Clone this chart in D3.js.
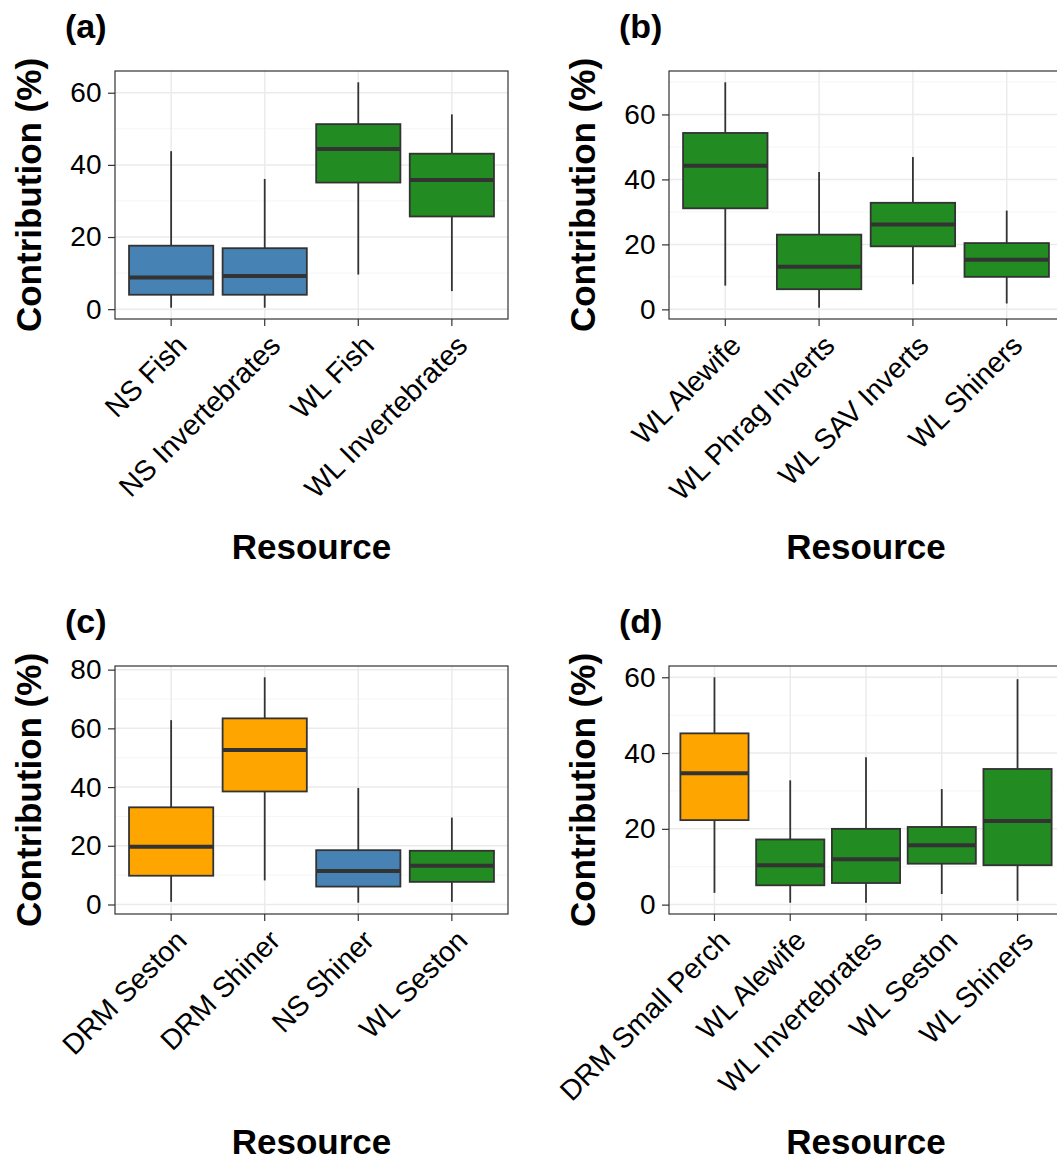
<!DOCTYPE html>
<html>
<head>
<meta charset="utf-8">
<script src="https://cdn.jsdelivr.net/npm/d3@7"></script>
<style>
  body { margin: 0; background: #ffffff; }
  svg { display: block; }
  text { font-family: "Liberation Sans", Arial, Helvetica, sans-serif; }
</style>
</head>
<body>
<svg id="fig" width="1057" height="1162"></svg>
<script>
// ---- Panel (a): diet contributions by resource ----
const catsA = ["NS Fish", "NS Invertebrates", "WL Fish", "WL Invertebrates"];
const lowA  = [0.4, 0.4, 9.6, 5.0];
const q1A   = [4.0, 4.0, 35.1, 25.7];
const medA  = [8.8, 9.2, 44.4, 35.8];
const q3A   = [17.6, 16.9, 51.3, 43.1];
const highA = [43.8, 36.1, 62.9, 54.0];
const ticksA = [0, 20, 40, 60];

// ---- Panel (b) ----
const catsB = ["WL Alewife", "WL Phrag Inverts", "WL SAV Inverts", "WL Shiners"];
const lowB  = [7.3, 0.5, 7.7, 1.8];
const q1B   = [31.1, 6.2, 19.4, 10.0];
const medB  = [44.2, 13.1, 26.1, 15.3];
const q3B   = [54.3, 23.0, 32.8, 20.4];
const highB = [69.9, 42.3, 46.9, 30.4];
const ticksB = [0, 20, 40, 60];

// ---- Panel (c) ----
const catsC = ["DRM Seston", "DRM Shiner", "NS Shiner", "WL Seston"];
const lowC  = [0.9, 8.2, 0.6, 0.9];
const q1C   = [9.8, 38.5, 6.1, 7.7];
const medC  = [19.7, 52.6, 11.4, 13.2];
const q3C   = [33.1, 63.4, 18.5, 18.3];
const highC = [62.8, 77.4, 39.7, 29.6];
const ticksC = [0, 20, 40, 60, 80];

// ---- Panel (d) ----
const catsD = ["DRM Small Perch", "WL Alewife", "WL Invertebrates", "WL Seston", "WL Shiners"];
const lowD  = [3.1, 0.5, 0.5, 2.8, 1.0];
const q1D   = [22.3, 5.1, 5.7, 10.8, 10.4];
const medD  = [34.7, 10.4, 12.0, 15.7, 22.1];
const q3D   = [45.2, 17.2, 20.0, 20.5, 35.8];
const highD = [60.0, 32.8, 38.9, 30.5, 59.5];
const ticksD = [0, 20, 40, 60];

// Fill colour by site prefix of the resource name
const siteColour = { NS: "#4682B4", WL: "#228B22", DRM: "#FFA500" };

const svg = d3.select("#fig");
svg.append("rect").attr("width", 1057).attr("height", 1162).attr("fill", "#ffffff");

const panels = [
  { tag: "(a)", cats: catsA, low: lowA, q1: q1A, med: medA, q3: q3A, high: highA, ticks: ticksA,
    left: 115, right: 508, top: 71, bottom: 319 },
  { tag: "(b)", cats: catsB, low: lowB, q1: q1B, med: medB, q3: q3B, high: highB, ticks: ticksB,
    left: 669, right: 1063, top: 71, bottom: 319 },
  { tag: "(c)", cats: catsC, low: lowC, q1: q1C, med: medC, q3: q3C, high: highC, ticks: ticksC,
    left: 115, right: 508, top: 666, bottom: 914 },
  { tag: "(d)", cats: catsD, low: lowD, q1: q1D, med: medD, q3: q3D, high: highD, ticks: ticksD,
    left: 669, right: 1063, top: 666, bottom: 914 }
];

function drawPanel(p) {
  const g = svg.append("g");
  const lo = d3.min(p.low), hi = d3.max(p.high), pad = (hi - lo) * 0.05;
  const y = d3.scaleLinear().domain([lo - pad, hi + pad]).range([p.bottom, p.top]);
  const x = d3.scaleBand().domain(p.cats).range([p.left, p.right])
    .paddingInner(0.1).paddingOuter(0.15);
  const cx = d => x(d) + x.bandwidth() / 2;

  // minor breaks halfway between the major ones
  const step = p.ticks[1] - p.ticks[0];
  const minor = [];
  for (let m = p.ticks[0] - step / 2; m <= hi + pad; m += step) {
    if (m >= lo - pad) minor.push(m);
  }

  g.append("rect")
    .attr("x", p.left).attr("y", p.top)
    .attr("width", p.right - p.left).attr("height", p.bottom - p.top)
    .attr("fill", "#ffffff");

  g.selectAll(".minor").data(minor).join("line")
    .attr("x1", p.left).attr("x2", p.right)
    .attr("y1", d => y(d)).attr("y2", d => y(d))
    .attr("stroke", "#F2F2F2").attr("stroke-width", 0.8);

  g.selectAll(".hmajor").data(p.ticks).join("line")
    .attr("x1", p.left).attr("x2", p.right)
    .attr("y1", d => y(d)).attr("y2", d => y(d))
    .attr("stroke", "#EBEBEB").attr("stroke-width", 1.5);

  g.selectAll(".vmajor").data(p.cats).join("line")
    .attr("x1", cx).attr("x2", cx)
    .attr("y1", p.top).attr("y2", p.bottom)
    .attr("stroke", "#EBEBEB").attr("stroke-width", 1.5);

  const rows = p.cats.map((c, i) => ({
    cat: c, low: p.low[i], q1: p.q1[i], med: p.med[i], q3: p.q3[i], high: p.high[i],
    site: c.split(" ")[0]
  }));

  const box = g.selectAll(".box").data(rows).join("g");

  box.append("line")
    .attr("x1", d => cx(d.cat)).attr("x2", d => cx(d.cat))
    .attr("y1", d => y(d.high)).attr("y2", d => y(d.low))
    .attr("stroke", "#333333").attr("stroke-width", 1.8);

  box.append("rect")
    .attr("x", d => x(d.cat)).attr("width", x.bandwidth())
    .attr("y", d => y(d.q3)).attr("height", d => y(d.q1) - y(d.q3))
    .attr("fill", d => siteColour[d.site])
    .attr("stroke", "#333333").attr("stroke-width", 1.8);

  box.append("line")
    .attr("x1", d => x(d.cat)).attr("x2", d => x(d.cat) + x.bandwidth())
    .attr("y1", d => y(d.med)).attr("y2", d => y(d.med))
    .attr("stroke", "#333333").attr("stroke-width", 4);

  g.append("rect")
    .attr("x", p.left).attr("y", p.top)
    .attr("width", p.right - p.left).attr("height", p.bottom - p.top)
    .attr("fill", "none").attr("stroke", "#333333").attr("stroke-width", 1.2);

  // y axis
  const ya = g.append("g").attr("transform", `translate(${p.left},0)`)
    .call(d3.axisLeft(y).tickValues(p.ticks).tickSize(7).tickPadding(6.5).tickFormat(d3.format("d")));
  ya.select(".domain").remove();
  ya.selectAll(".tick line").attr("stroke", "#333333").attr("stroke-width", 1.2);
  ya.selectAll(".tick text")
    .attr("font-size", 28).attr("fill", "#000000")
    .style("font-family", "'Liberation Sans', Arial, sans-serif");

  // x axis with slanted labels
  const xa = g.append("g").attr("transform", `translate(0,${p.bottom})`)
    .call(d3.axisBottom(x).tickSize(7));
  xa.select(".domain").remove();
  xa.selectAll(".tick line").attr("stroke", "#333333").attr("stroke-width", 1.2);
  xa.selectAll(".tick text")
    .attr("x", 0).attr("y", 0).attr("dy", "0.71em")
    .attr("text-anchor", "end")
    .attr("transform", "translate(3,14) rotate(-45)")
    .attr("font-size", 28.5).attr("fill", "#000000")
    .style("font-family", "'Liberation Sans', Arial, sans-serif");

  // titles and tag
  g.append("text")
    .attr("transform", `translate(${p.left - 74},${(p.top + p.bottom) / 2}) rotate(-90)`)
    .attr("text-anchor", "middle")
    .attr("font-size", 35).attr("font-weight", "bold").attr("fill", "#000000")
    .text("Contribution (%)");

  g.append("text")
    .attr("x", (p.left + p.right) / 2).attr("y", p.bottom + 240)
    .attr("text-anchor", "middle")
    .attr("font-size", 35).attr("font-weight", "bold").attr("fill", "#000000")
    .text("Resource");

  g.append("text")
    .attr("x", p.left - 50).attr("y", p.top - 33)
    .attr("font-size", 34).attr("font-weight", "bold").attr("fill", "#000000")
    .text(p.tag);
}

panels.forEach(drawPanel);
</script>
</body>
</html>
